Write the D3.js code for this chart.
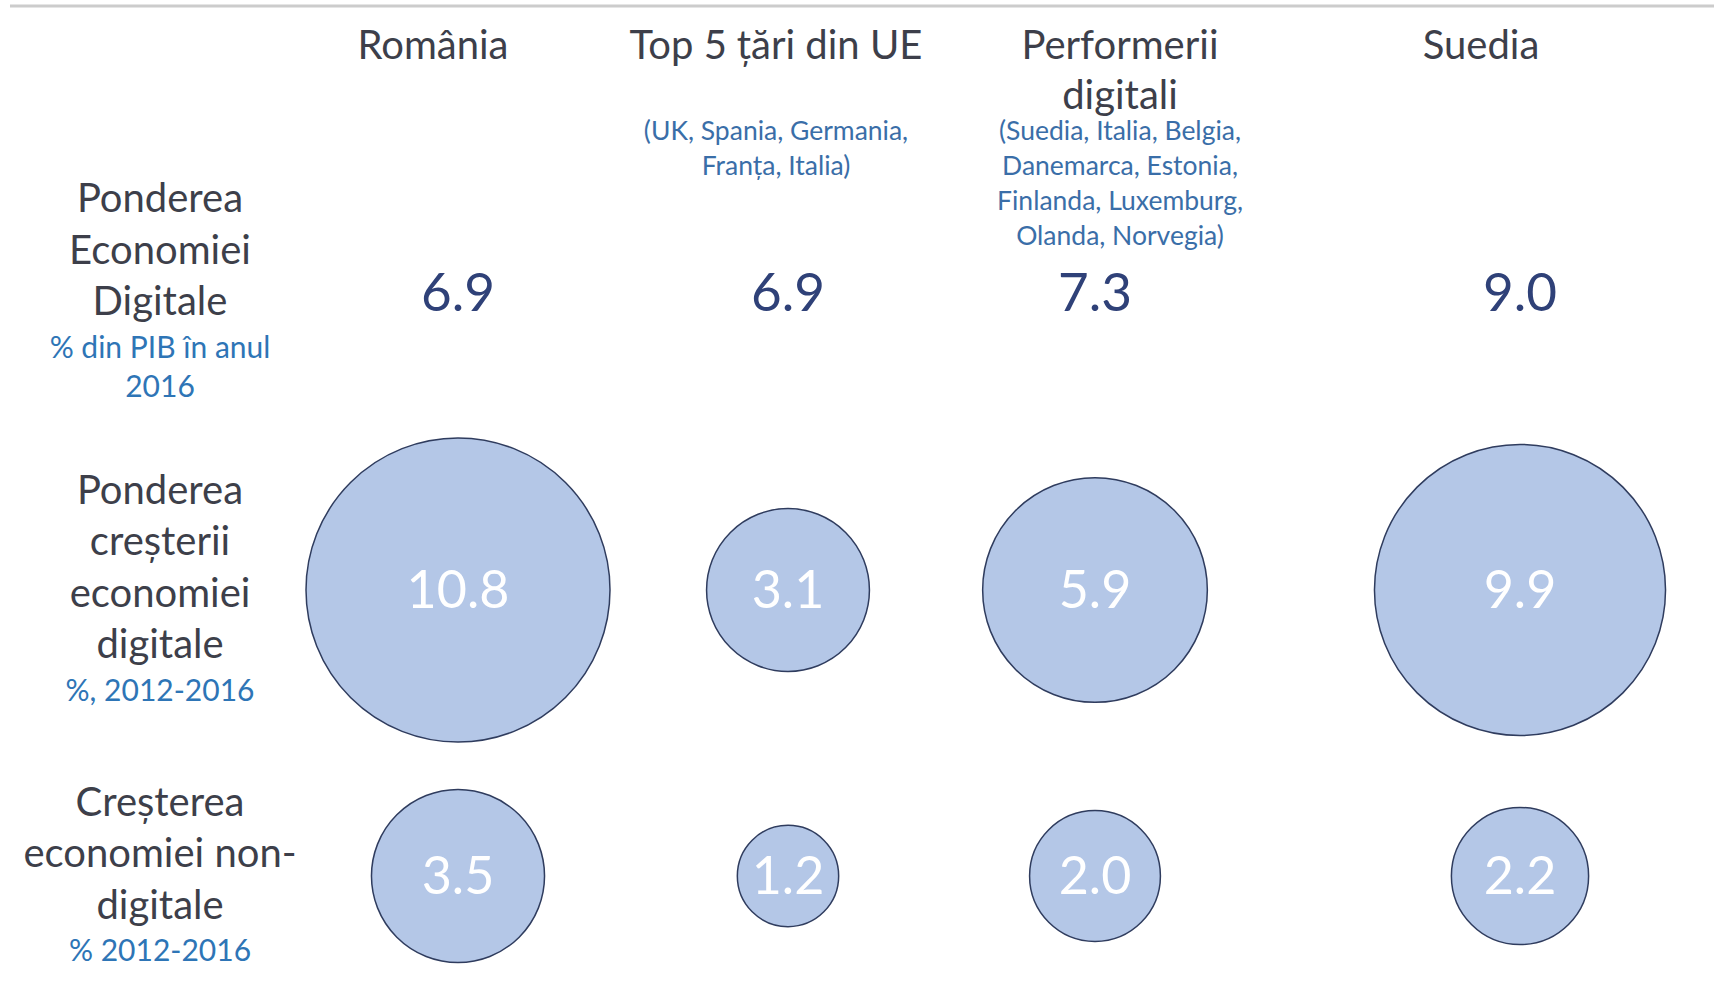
<!DOCTYPE html>
<html>
<head>
<meta charset="utf-8">
<script src="https://cdn.jsdelivr.net/npm/d3@7"></script>
<style>
    body { margin: 0; background: #ffffff; }
    svg { display: block; font-family: Lato, "Noto Sans", sans-serif; }
</style>
</head>
<body>
<svg id="plotSvg"></svg>
<script>
// columns (groups of countries)
const columns = ["România", "Top 5 țări din UE", "Performerii digitali", "Suedia"];
const columnHeaderLines = [["România"], ["Top 5 țări din UE"], ["Performerii", "digitali"], ["Suedia"]];
const columnNotes = [
    [],
    ["(UK, Spania, Germania,", "Franța, Italia)"],
    ["(Suedia, Italia, Belgia,", "Danemarca, Estonia,", "Finlanda, Luxemburg,", "Olanda, Norvegia)"],
    []
];

// rows (indicators)
const rows = ["share", "growth", "nonDigital"];
const rowLabels = [
    ["Ponderea", "Economiei", "Digitale"],
    ["Ponderea", "creșterii", "economiei", "digitale"],
    ["Creșterea", "economiei non-", "digitale"]
];
const rowSubLabels = [
    ["% din PIB în anul", "2016"],
    ["%, 2012-2016"],
    ["% 2012-2016"]
];

// values
const digitalShare = [6.9, 6.9, 7.3, 9.0];          // % din PIB 2016
const digitalGrowthShare = [10.8, 3.1, 5.9, 9.9];   // %, 2012-2016
const nonDigitalGrowth = [3.5, 1.2, 2.0, 2.2];      // % 2012-2016

function plotGraph() {
    const width = 1714, height = 982;

    const svg = d3.select("#plotSvg")
        .attr("width", width)
        .attr("height", height);

    // thin gray rule at the top
    svg.append("line")
        .attr("x1", 10).attr("x2", width)
        .attr("y1", 6).attr("y2", 6)
        .attr("stroke", "#cccccc")
        .attr("stroke-width", 3);

    const x = d3.scaleOrdinal()
        .domain(columns)
        .range([458, 788, 1095, 1520]);

    const headerX = d3.scaleOrdinal()
        .domain(columns)
        .range([433, 776, 1120, 1481]);

    const y = d3.scaleOrdinal()
        .domain(rows)
        .range([292, 590, 876]);

    const r = d3.scaleSqrt()
        .domain([0, d3.max(digitalGrowthShare.concat(nonDigitalGrowth))])
        .range([0, 152]);

    // column headers
    const headers = svg.append("g").classed("headers", true)
        .selectAll("g")
        .data(columns)
        .join("g");

    headers.selectAll("text.head")
        .data((d, i) => columnHeaderLines[i].map(t => ({ col: d, t: t })))
        .join("text")
        .classed("head", true)
        .attr("x", d => headerX(d.col))
        .attr("y", (d, j) => 45 + j * 50)
        .attr("dy", "0.35em")
        .attr("text-anchor", "middle")
        .style("font-size", "40px")
        .style("fill", "#3d3f4a")
        .text(d => d.t);

    headers.selectAll("text.note")
        .data((d, i) => columnNotes[i].map(t => ({ col: d, t: t })))
        .join("text")
        .classed("note", true)
        .attr("x", d => headerX(d.col))
        .attr("y", (d, j) => 131 + j * 35)
        .attr("dy", "0.35em")
        .attr("text-anchor", "middle")
        .style("font-size", "26.5px")
        .style("fill", "#3a6ea8")
        .text(d => d.t);

    // row labels
    const lineH = 51.5, subGap = 46, subH = 39;
    const rowLab = svg.append("g").classed("rowLabels", true)
        .selectAll("g")
        .data(rows)
        .join("g")
        .attr("transform", (d, i) => {
            const n = rowLabels[i].length, m = rowSubLabels[i].length;
            const total = (n - 1) * lineH + subGap + (m - 1) * subH;
            return `translate(160, ${y(d) - total / 2})`;
        });

    rowLab.selectAll("text.main")
        .data((d, i) => rowLabels[i])
        .join("text")
        .classed("main", true)
        .attr("y", (d, j) => j * lineH)
        .attr("dy", "0.35em")
        .attr("text-anchor", "middle")
        .style("font-size", "40px")
        .style("fill", "#3d3f4a")
        .text(d => d);

    rowLab.selectAll("text.sub")
        .data((d, i) => rowSubLabels[i].map(t => ({ t: t, n: rowLabels[i].length })))
        .join("text")
        .classed("sub", true)
        .attr("y", (d, j) => (d.n - 1) * lineH + subGap + j * subH)
        .attr("dy", "0.35em")
        .attr("text-anchor", "middle")
        .style("font-size", "30px")
        .style("fill", "#2e75b6")
        .text(d => d.t);

    // first row: plain numbers
    svg.append("g")
        .classed("shareValues", true)
        .selectAll("text")
        .data(digitalShare)
        .join("text")
        .attr("x", (d, i) => x(columns[i]))
        .attr("y", y("share"))
        .attr("dy", "0.35em")
        .attr("text-anchor", "middle")
        .style("font-size", "53px")
        .style("fill", "#2f4178")
        .text(d => d.toFixed(1));

    // bubble rows
    const bubbleRows = [
        { row: "growth", values: digitalGrowthShare },
        { row: "nonDigital", values: nonDigitalGrowth }
    ];

    bubbleRows.forEach(function (br) {
        const g = svg.append("g").classed("bubbles_" + br.row, true);

        g.selectAll("circle")
            .data(br.values)
            .join("circle")
            .attr("cx", (d, i) => x(columns[i]))
            .attr("cy", y(br.row))
            .attr("r", d => r(d))
            .attr("fill", "#b4c7e7")
            .attr("stroke", "#2f3c5e")
            .attr("stroke-width", 1.5);

        g.selectAll("text")
            .data(br.values)
            .join("text")
            .attr("x", (d, i) => x(columns[i]))
            .attr("y", y(br.row))
            .attr("dy", "0.35em")
            .attr("text-anchor", "middle")
            .style("font-size", "52px")
            .style("fill", "#ffffff")
            .text(d => d.toFixed(1));
    });
}

document.addEventListener('DOMContentLoaded', function () {
    plotGraph();
});
</script>
</body>
</html>
